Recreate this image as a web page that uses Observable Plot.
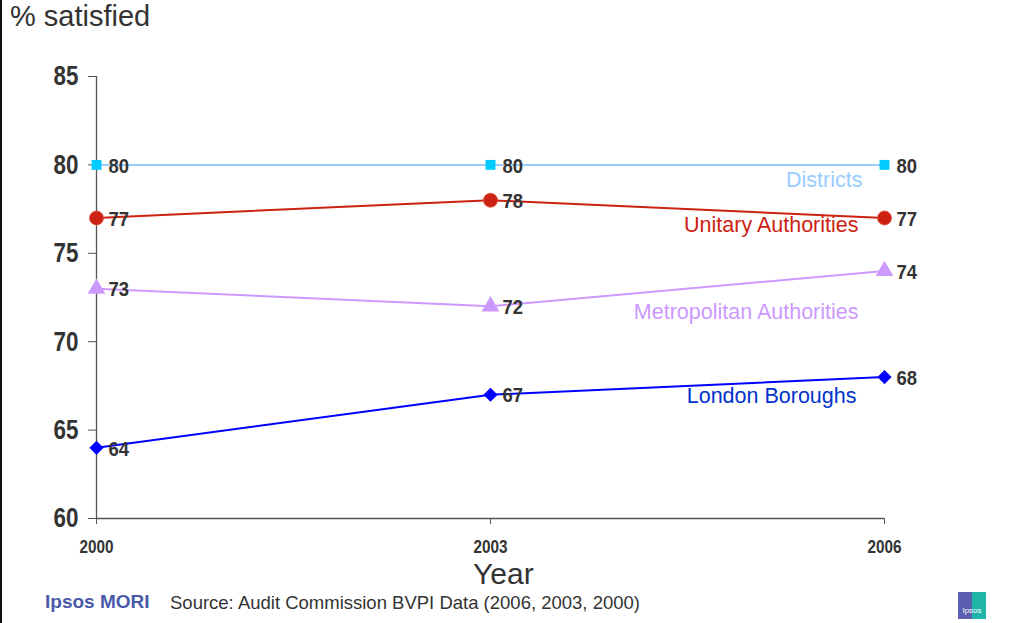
<!DOCTYPE html>
<html>
<head>
<meta charset="utf-8">
<script src="https://cdn.jsdelivr.net/npm/d3@7"></script>
<script src="https://cdn.jsdelivr.net/npm/@observablehq/plot@0.6"></script>
<style>
  html, body { margin: 0; padding: 0; background: #fff; }
  #wrap { position: relative; width: 1027px; height: 623px; overflow: hidden; font-family: "Liberation Sans", Arial, sans-serif; }
  #border { position: absolute; left: 0; top: 0; width: 2px; height: 623px; background: #111; }
  #title { position: absolute; left: 10px; top: 0px; font-size: 29px; color: #333; }
  #xlabel { position: absolute; left: 473px; top: 557px; font-size: 30px; color: #333; }
  #brand { position: absolute; left: 45px; top: 591px; font-size: 19px; font-weight: bold; color: #4a5aa8; }
  #source { position: absolute; left: 170px; top: 592px; font-size: 18.5px; color: #333; }
  #logo { position: absolute; left: 958px; top: 592px; width: 28px; height: 27px; background: linear-gradient(90deg, #5a5fb0 0 50%, #1fb5a8 50% 100%); color: #fff; font-size: 8px; text-align: center; line-height: 38px; }
  #chart { position: absolute; left: 0; top: 0; }
  #chart svg text { font-family: "Liberation Sans", Arial, sans-serif; }
</style>
</head>
<body>
<div id="wrap">
  <div id="chart"></div>
  <div id="border"></div>
  <div id="title">% satisfied</div>
  <div id="xlabel">Year</div>
  <div id="brand">Ipsos MORI</div>
  <div id="source">Source: Audit Commission BVPI Data (2006, 2003, 2000)</div>
  <div id="logo">Ipsos</div>
</div>
<script>
const years = [2000, 2003, 2006];
const districts = [80, 80, 80];
const unitary = [77, 78, 77];
const metropolitan = [73, 72, 74];
const london = [64, 67, 68];
const yTicks = [60, 65, 70, 75, 80, 85];

const toRows = (vals) => years.map((y, i) => ({year: y, value: vals[i]}));
const D = toRows(districts), U = toRows(unitary), M = toRows(metropolitan), L = toRows(london);

const font = "'Liberation Sans', Arial, sans-serif";
const valueLabels = (data) => Plot.text(data, {x: "year", y: "value", text: d => String(d.value), dx: 12, dy: 1, textAnchor: "start", fontSize: 21, fontWeight: "bold", fill: "#333", fontFamily: font});
const last = (data) => [data[data.length - 1]];
const seriesLabel = (data, label, color, dx, dy) => Plot.text(last(data), {x: "year", y: "value", text: () => label, dx, dy, textAnchor: "end", fontSize: 21.5, fill: color, fontFamily: font});

const chart = Plot.plot({
  width: 1027,
  height: 623,
  marginLeft: 96,
  marginRight: 143,
  marginTop: 76,
  marginBottom: 105,
  style: {background: "transparent", overflow: "visible"},
  x: {domain: [2000, 2006]},
  y: {domain: [60, 85]},
  marks: [
    Plot.axisY({ticks: yTicks, tickSize: 8, tickPadding: 10, fontSize: 28, fontWeight: "bold", fontFamily: font, color: "#333", stroke: "#555", label: null}),
    Plot.axisX({ticks: years, tickSize: 6, tickPadding: 16, tickFormat: d => String(d), fontSize: 18, fontWeight: "bold", fontFamily: font, color: "#333", stroke: "#555", label: null}),
    Plot.ruleY([60], {stroke: "#555", strokeWidth: 1.3}),
    Plot.ruleX([2000], {stroke: "#555", strokeWidth: 1.3, y1: 60, y2: 85}),
    Plot.line(D, {x: "year", y: "value", stroke: "#99ccff", strokeWidth: 2}),
    Plot.line(U, {x: "year", y: "value", stroke: "#cc2211", strokeWidth: 2}),
    Plot.line(M, {x: "year", y: "value", stroke: "#cc99ff", strokeWidth: 2}),
    Plot.line(L, {x: "year", y: "value", stroke: "#0000ff", strokeWidth: 2}),
    Plot.dot(D, {x: "year", y: "value", symbol: "square", r: 5.6, fill: "#00ccff"}),
    Plot.dot(U, {x: "year", y: "value", symbol: "circle", r: 7, fill: "#cc2211", stroke: "#e05040", strokeWidth: 0.8}),
    Plot.dot(M, {x: "year", y: "value", symbol: "triangle", r: 6.6, fill: "#cc99ff"}),
    Plot.dot(L, {x: "year", y: "value", symbol: "diamond2", r: 6.4, fill: "#0000ff"}),
    valueLabels(D), valueLabels(U), valueLabels(M), valueLabels(L),
    seriesLabel(D, "Districts", "#99ccff", -22, 15),
    seriesLabel(U, "Unitary Authorities", "#cc2211", -26, 7),
    seriesLabel(M, "Metropolitan Authorities", "#cc99ff", -26, 41),
    seriesLabel(L, "London Boroughs", "#0033cc", -28, 19)
  ]
});
document.getElementById("chart").appendChild(chart);

// condensed look of the bold numeric labels: append a horizontal scale after each text's own transform
function squeeze(nodes, k) {
  nodes.forEach(el => {
    const t = el.getAttribute("transform") || "";
    el.setAttribute("transform", `${t} scale(${k},1)`);
  });
}
const q = (s) => Array.from(chart.querySelectorAll(s));
squeeze(q('g[aria-label="y-axis tick label"] text'), 0.8);
squeeze(q('g[aria-label="x-axis tick label"] text'), 0.85);
squeeze(q('g[aria-label="text"] text').filter(el => /^\d+$/.test(el.textContent.trim())), 0.88);
</script>
</body>
</html>
